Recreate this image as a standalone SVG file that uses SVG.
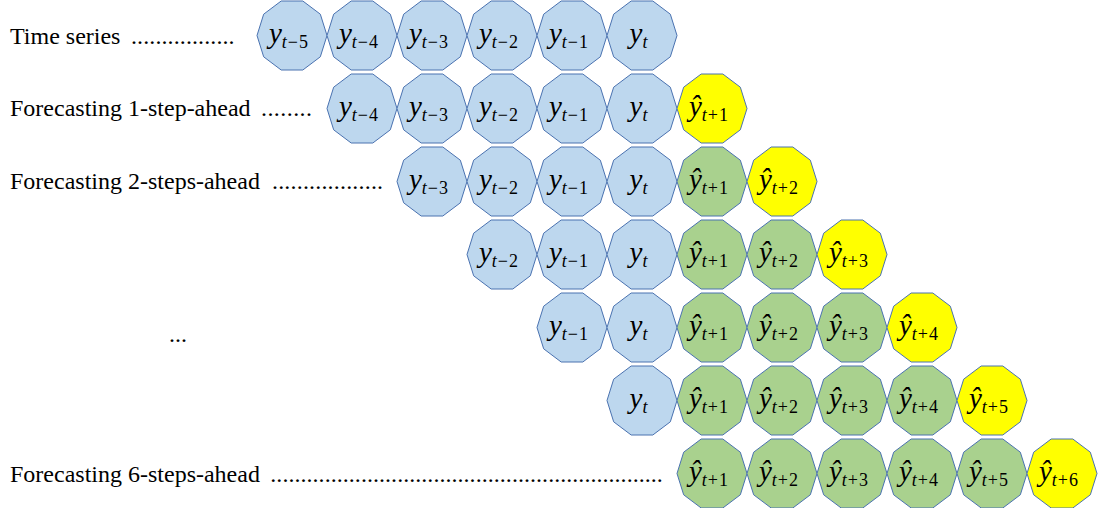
<svg xmlns="http://www.w3.org/2000/svg" xmlns:xlink="http://www.w3.org/1999/xlink" width="1098" height="508" viewBox="0 0 1098 508">
<style>
.lbl{font-family:"Liberation Serif","Times New Roman",serif;font-size:24px;fill:#000}
.dots{font-family:"Liberation Serif","Times New Roman",serif;font-size:24px;fill:#000}
.node polygon,.node use{stroke:#4A72B0;stroke-width:1}
.blue{fill:#BDD7EE}
.green{fill:#A9D18E}
.yellow{fill:#FFFF00}
.t{font-family:"Liberation Serif","Times New Roman",serif;fill:#000;text-anchor:middle}
.v{font-size:29px;font-style:italic}
.s{font-size:18px;letter-spacing:1px}
.i{font-style:italic}
</style>
<defs>
<polygon id="dec" points="35,0 28.32,21.32 10.82,34.5 -10.82,34.5 -28.32,21.32 -35,0 -28.32,-21.32 -10.82,-34.5 10.82,-34.5 28.32,-21.32"/>
</defs>

<g id="labels">
<text class="lbl" x="10" y="43.5">Time series</text>
<text class="dots" x="131" y="43.5" letter-spacing="0.1">.................</text>
<text class="lbl" x="10" y="116">Forecasting 1-step-ahead</text>
<text class="dots" x="261" y="116" letter-spacing="0.43">........</text>
<text class="lbl" x="10" y="188.5">Forecasting 2-steps-ahead</text>
<text class="dots" x="272" y="188.5" letter-spacing="0.18">..................</text>
<text class="lbl" x="169" y="342">...</text>
<text class="lbl" x="10" y="481.5">Forecasting 6-steps-ahead</text>
<text class="dots" x="270.3" y="481.5" letter-spacing="0.04">.................................................................</text>
</g>

<g id="connectors"></g>

<!-- Row 0 -->
<g id="r0c0" class="node"><use xlink:href="#dec" class="blue" x="292" y="35.5"/><text class="t" x="289" y="43"><tspan class="v">y</tspan><tspan class="s" dy="4.5"><tspan class="i">t</tspan>−5</tspan></text></g>
<g id="r0c1" class="node"><use xlink:href="#dec" class="blue" x="362" y="35.5"/><text class="t" x="359" y="43"><tspan class="v">y</tspan><tspan class="s" dy="4.5"><tspan class="i">t</tspan>−4</tspan></text></g>
<g id="r0c2" class="node"><use xlink:href="#dec" class="blue" x="432" y="35.5"/><text class="t" x="429" y="43"><tspan class="v">y</tspan><tspan class="s" dy="4.5"><tspan class="i">t</tspan>−3</tspan></text></g>
<g id="r0c3" class="node"><use xlink:href="#dec" class="blue" x="502" y="35.5"/><text class="t" x="499" y="43"><tspan class="v">y</tspan><tspan class="s" dy="4.5"><tspan class="i">t</tspan>−2</tspan></text></g>
<g id="r0c4" class="node"><use xlink:href="#dec" class="blue" x="572" y="35.5"/><text class="t" x="569" y="43"><tspan class="v">y</tspan><tspan class="s" dy="4.5"><tspan class="i">t</tspan>−1</tspan></text></g>
<g id="r0c5" class="node"><use xlink:href="#dec" class="blue" x="642" y="35.5"/><text class="t" x="639" y="43"><tspan class="v">y</tspan><tspan class="s i" dy="4.5">t</tspan></text></g>

<!-- Row 1 -->
<g id="r1c1" class="node"><use xlink:href="#dec" class="blue" x="362" y="108.5"/><text class="t" x="359" y="116"><tspan class="v">y</tspan><tspan class="s" dy="4.5"><tspan class="i">t</tspan>−4</tspan></text></g>
<g id="r1c2" class="node"><use xlink:href="#dec" class="blue" x="432" y="108.5"/><text class="t" x="429" y="116"><tspan class="v">y</tspan><tspan class="s" dy="4.5"><tspan class="i">t</tspan>−3</tspan></text></g>
<g id="r1c3" class="node"><use xlink:href="#dec" class="blue" x="502" y="108.5"/><text class="t" x="499" y="116"><tspan class="v">y</tspan><tspan class="s" dy="4.5"><tspan class="i">t</tspan>−2</tspan></text></g>
<g id="r1c4" class="node"><use xlink:href="#dec" class="blue" x="572" y="108.5"/><text class="t" x="569" y="116"><tspan class="v">y</tspan><tspan class="s" dy="4.5"><tspan class="i">t</tspan>−1</tspan></text></g>
<g id="r1c5" class="node"><use xlink:href="#dec" class="blue" x="642" y="108.5"/><text class="t" x="639" y="116"><tspan class="v">y</tspan><tspan class="s i" dy="4.5">t</tspan></text></g>
<g id="r1c6" class="node"><use xlink:href="#dec" class="yellow" x="712" y="108.5"/><text class="t" x="709" y="116"><tspan class="v">ŷ</tspan><tspan class="s" dy="4.5"><tspan class="i">t</tspan>+1</tspan></text></g>

<!-- Row 2 -->
<g id="r2c2" class="node"><use xlink:href="#dec" class="blue" x="432" y="181.5"/><text class="t" x="429" y="189"><tspan class="v">y</tspan><tspan class="s" dy="4.5"><tspan class="i">t</tspan>−3</tspan></text></g>
<g id="r2c3" class="node"><use xlink:href="#dec" class="blue" x="502" y="181.5"/><text class="t" x="499" y="189"><tspan class="v">y</tspan><tspan class="s" dy="4.5"><tspan class="i">t</tspan>−2</tspan></text></g>
<g id="r2c4" class="node"><use xlink:href="#dec" class="blue" x="572" y="181.5"/><text class="t" x="569" y="189"><tspan class="v">y</tspan><tspan class="s" dy="4.5"><tspan class="i">t</tspan>−1</tspan></text></g>
<g id="r2c5" class="node"><use xlink:href="#dec" class="blue" x="642" y="181.5"/><text class="t" x="639" y="189"><tspan class="v">y</tspan><tspan class="s i" dy="4.5">t</tspan></text></g>
<g id="r2c6" class="node"><use xlink:href="#dec" class="green" x="712" y="181.5"/><text class="t" x="709" y="189"><tspan class="v">ŷ</tspan><tspan class="s" dy="4.5"><tspan class="i">t</tspan>+1</tspan></text></g>
<g id="r2c7" class="node"><use xlink:href="#dec" class="yellow" x="782" y="181.5"/><text class="t" x="779" y="189"><tspan class="v">ŷ</tspan><tspan class="s" dy="4.5"><tspan class="i">t</tspan>+2</tspan></text></g>

<!-- Row 3 -->
<g id="r3c3" class="node"><use xlink:href="#dec" class="blue" x="502" y="254.5"/><text class="t" x="499" y="262"><tspan class="v">y</tspan><tspan class="s" dy="4.5"><tspan class="i">t</tspan>−2</tspan></text></g>
<g id="r3c4" class="node"><use xlink:href="#dec" class="blue" x="572" y="254.5"/><text class="t" x="569" y="262"><tspan class="v">y</tspan><tspan class="s" dy="4.5"><tspan class="i">t</tspan>−1</tspan></text></g>
<g id="r3c5" class="node"><use xlink:href="#dec" class="blue" x="642" y="254.5"/><text class="t" x="639" y="262"><tspan class="v">y</tspan><tspan class="s i" dy="4.5">t</tspan></text></g>
<g id="r3c6" class="node"><use xlink:href="#dec" class="green" x="712" y="254.5"/><text class="t" x="709" y="262"><tspan class="v">ŷ</tspan><tspan class="s" dy="4.5"><tspan class="i">t</tspan>+1</tspan></text></g>
<g id="r3c7" class="node"><use xlink:href="#dec" class="green" x="782" y="254.5"/><text class="t" x="779" y="262"><tspan class="v">ŷ</tspan><tspan class="s" dy="4.5"><tspan class="i">t</tspan>+2</tspan></text></g>
<g id="r3c8" class="node"><use xlink:href="#dec" class="yellow" x="852" y="254.5"/><text class="t" x="849" y="262"><tspan class="v">ŷ</tspan><tspan class="s" dy="4.5"><tspan class="i">t</tspan>+3</tspan></text></g>

<!-- Row 4 -->
<g id="r4c4" class="node"><use xlink:href="#dec" class="blue" x="572" y="327.5"/><text class="t" x="569" y="335"><tspan class="v">y</tspan><tspan class="s" dy="4.5"><tspan class="i">t</tspan>−1</tspan></text></g>
<g id="r4c5" class="node"><use xlink:href="#dec" class="blue" x="642" y="327.5"/><text class="t" x="639" y="335"><tspan class="v">y</tspan><tspan class="s i" dy="4.5">t</tspan></text></g>
<g id="r4c6" class="node"><use xlink:href="#dec" class="green" x="712" y="327.5"/><text class="t" x="709" y="335"><tspan class="v">ŷ</tspan><tspan class="s" dy="4.5"><tspan class="i">t</tspan>+1</tspan></text></g>
<g id="r4c7" class="node"><use xlink:href="#dec" class="green" x="782" y="327.5"/><text class="t" x="779" y="335"><tspan class="v">ŷ</tspan><tspan class="s" dy="4.5"><tspan class="i">t</tspan>+2</tspan></text></g>
<g id="r4c8" class="node"><use xlink:href="#dec" class="green" x="852" y="327.5"/><text class="t" x="849" y="335"><tspan class="v">ŷ</tspan><tspan class="s" dy="4.5"><tspan class="i">t</tspan>+3</tspan></text></g>
<g id="r4c9" class="node"><use xlink:href="#dec" class="yellow" x="922" y="327.5"/><text class="t" x="919" y="335"><tspan class="v">ŷ</tspan><tspan class="s" dy="4.5"><tspan class="i">t</tspan>+4</tspan></text></g>

<!-- Row 5 -->
<g id="r5c5" class="node"><use xlink:href="#dec" class="blue" x="642" y="400.5"/><text class="t" x="639" y="408"><tspan class="v">y</tspan><tspan class="s i" dy="4.5">t</tspan></text></g>
<g id="r5c6" class="node"><use xlink:href="#dec" class="green" x="712" y="400.5"/><text class="t" x="709" y="408"><tspan class="v">ŷ</tspan><tspan class="s" dy="4.5"><tspan class="i">t</tspan>+1</tspan></text></g>
<g id="r5c7" class="node"><use xlink:href="#dec" class="green" x="782" y="400.5"/><text class="t" x="779" y="408"><tspan class="v">ŷ</tspan><tspan class="s" dy="4.5"><tspan class="i">t</tspan>+2</tspan></text></g>
<g id="r5c8" class="node"><use xlink:href="#dec" class="green" x="852" y="400.5"/><text class="t" x="849" y="408"><tspan class="v">ŷ</tspan><tspan class="s" dy="4.5"><tspan class="i">t</tspan>+3</tspan></text></g>
<g id="r5c9" class="node"><use xlink:href="#dec" class="green" x="922" y="400.5"/><text class="t" x="919" y="408"><tspan class="v">ŷ</tspan><tspan class="s" dy="4.5"><tspan class="i">t</tspan>+4</tspan></text></g>
<g id="r5c10" class="node"><use xlink:href="#dec" class="yellow" x="992" y="400.5"/><text class="t" x="989" y="408"><tspan class="v">ŷ</tspan><tspan class="s" dy="4.5"><tspan class="i">t</tspan>+5</tspan></text></g>

<!-- Row 6 -->
<g id="r6c6" class="node"><use xlink:href="#dec" class="green" x="712" y="473.5"/><text class="t" x="709" y="481"><tspan class="v">ŷ</tspan><tspan class="s" dy="4.5"><tspan class="i">t</tspan>+1</tspan></text></g>
<g id="r6c7" class="node"><use xlink:href="#dec" class="green" x="782" y="473.5"/><text class="t" x="779" y="481"><tspan class="v">ŷ</tspan><tspan class="s" dy="4.5"><tspan class="i">t</tspan>+2</tspan></text></g>
<g id="r6c8" class="node"><use xlink:href="#dec" class="green" x="852" y="473.5"/><text class="t" x="849" y="481"><tspan class="v">ŷ</tspan><tspan class="s" dy="4.5"><tspan class="i">t</tspan>+3</tspan></text></g>
<g id="r6c9" class="node"><use xlink:href="#dec" class="green" x="922" y="473.5"/><text class="t" x="919" y="481"><tspan class="v">ŷ</tspan><tspan class="s" dy="4.5"><tspan class="i">t</tspan>+4</tspan></text></g>
<g id="r6c10" class="node"><use xlink:href="#dec" class="green" x="992" y="473.5"/><text class="t" x="989" y="481"><tspan class="v">ŷ</tspan><tspan class="s" dy="4.5"><tspan class="i">t</tspan>+5</tspan></text></g>
<g id="r6c11" class="node"><use xlink:href="#dec" class="yellow" x="1062" y="473.5"/><text class="t" x="1059" y="481"><tspan class="v">ŷ</tspan><tspan class="s" dy="4.5"><tspan class="i">t</tspan>+6</tspan></text></g>
</svg>
